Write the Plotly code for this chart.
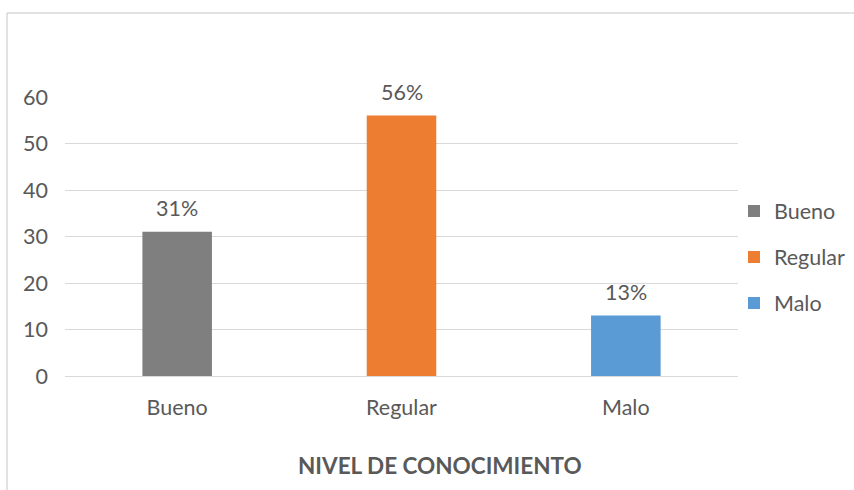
import plotly.graph_objects as go

categories = ["Bueno", "Regular", "Malo"]
values = [31, 56, 13]
labels = ["31%", "56%", "13%"]
colors = ["#7f7f7f", "#ed7d31", "#5b9bd5"]
axis_title = "NIVEL DE CONOCIMIENTO"

FONT = "Lato, 'Open Sans', sans-serif"
TXT = "#595959"
FS = 21.5

fig = go.Figure()
for c, v, col in zip(categories, values, colors):
    fig.add_trace(go.Bar(
        x=[c], y=[v], name=c,
        marker=dict(color=col, line=dict(width=0)), width=0.31,
        cliponaxis=False, legendgroup=c,
    ))

W, H = 854, 490
l, r, t, b = 65, 116, 97, 114
pw, ph = W - l - r, H - t - b

annotations = [
    dict(x=c, y=v, text=lab, showarrow=False, xref="x", yref="y",
         yanchor="bottom", yshift=9, font=dict(size=FS, color=TXT, family=FONT))
    for c, v, lab in zip(categories, values, labels)
]
annotations.append(dict(
    x=(440 - l) / pw, y=(376 - 465) / ph, xref="paper", yref="paper",
    xanchor="center", yanchor="middle", showarrow=False,
    text="<b>" + axis_title + "</b>", font=dict(size=22.5, color=TXT, family=FONT)))

fig.update_layout(
    width=W, height=H,
    margin=dict(l=l, r=r, t=t, b=b, autoexpand=False),
    paper_bgcolor="white", plot_bgcolor="white",
    barmode="overlay",
    font=dict(family=FONT, size=FS, color=TXT),
    annotations=annotations,
    legend=dict(x=(734 - l) / pw, y=(376 - 257) / ph, xanchor="left", yanchor="middle",
                font=dict(size=FS, color=TXT, family=FONT), tracegroupgap=15,
                traceorder="grouped", itemwidth=30, bgcolor="rgba(0,0,0,0)"),
    xaxis=dict(showline=False, showgrid=False, ticks="", tickfont=dict(size=FS, color=TXT),
               automargin=False, ticklabelstandoff=16),
    yaxis=dict(range=[0, 60], dtick=10, showgrid=True, gridcolor="#d9d9d9", gridwidth=1,
               zeroline=True, zerolinecolor="#d9d9d9", zerolinewidth=1, showline=False,
               automargin=False,
               tickfont=dict(size=FS, color=TXT), ticks="", ticklabelstandoff=16),
    shapes=[
        dict(type="line", xref="paper", yref="paper",
             x0=(7 - l) / pw, x1=(W + 10 - l) / pw, y0=(H - 13 - b) / ph, y1=(H - 13 - b) / ph,
             line=dict(color="#d9d9d9", width=1.5)),
        dict(type="line", xref="paper", yref="paper",
             x0=(7 - l) / pw, x1=(7 - l) / pw, y0=(H - 13 - b) / ph, y1=(-10 - b) / ph,
             line=dict(color="#d9d9d9", width=1.5)),
    ],
)

fig.write_html("out.html", config={"displayModeBar": False},
               post_script="document.body.style.margin='0';document.body.style.overflow='hidden';")
